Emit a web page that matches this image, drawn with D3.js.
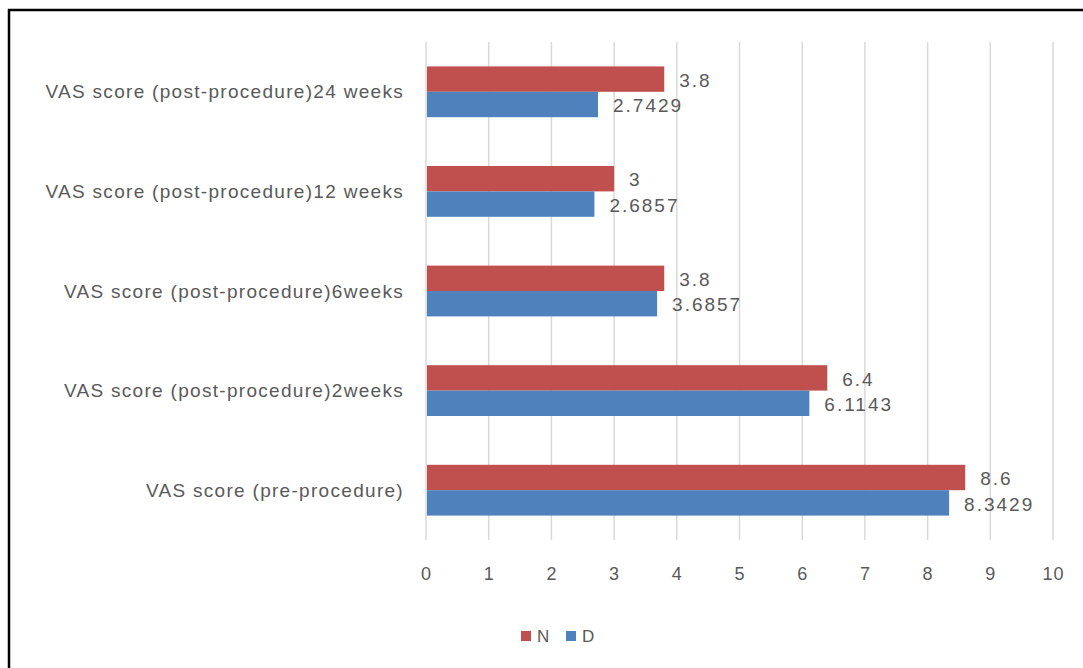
<!DOCTYPE html>
<html>
<head>
<meta charset="utf-8">
<script src="https://cdn.jsdelivr.net/npm/d3@7"></script>
<style>
    body { margin: 0; background: #fff; }
    svg text { font-family: "Liberation Sans", Arial, sans-serif; fill: #595959; }
</style>
</head>
<body>
<svg id="chart" width="1083" height="668"></svg>
<script>
// chart values
var categories = [
    "VAS score (post-procedure)24 weeks",
    "VAS score (post-procedure)12 weeks",
    "VAS score (post-procedure)6weeks",
    "VAS score (post-procedure)2weeks",
    "VAS score (pre-procedure)"
];
var seriesNames = ["N", "D"];
var nValues = [3.8, 3, 3.8, 6.4, 8.6];
var dValues = [2.7429, 2.6857, 3.6857, 6.1143, 8.3429];
var xTicks = [0, 1, 2, 3, 4, 5, 6, 7, 8, 9, 10];
var colors = ["#C0504D", "#4F81BD"];

var svg = d3.select("#chart");

// outer frame
svg.append("rect")
    .attr("x", 9).attr("y", 10)
    .attr("width", 1090).attr("height", 680)
    .attr("fill", "none")
    .attr("stroke", "#000")
    .attr("stroke-width", 2.5);

var margin = { left: 426, top: 42, right: 30 };
var width = 1053 - margin.left;
var height = 540 - margin.top;

var x = d3.scaleLinear()
    .domain([0, 10])
    .range([margin.left, margin.left + width]);

var y = d3.scaleBand()
    .domain(categories)
    .range([margin.top, margin.top + height])
    .paddingInner(0.49)
    .paddingOuter(0.245);

var ySub = d3.scaleBand()
    .domain(seriesNames)
    .range([0, y.bandwidth()]);

// gridlines
svg.append("g")
    .attr("class", "grid")
    .selectAll("line")
    .data(xTicks).enter()
    .append("line")
    .attr("x1", d => x(d)).attr("x2", d => x(d))
    .attr("y1", margin.top).attr("y2", margin.top + height)
    .attr("stroke", "#d9d9d9")
    .attr("stroke-width", 1.5);

// x tick labels
var gx = svg.append("g")
    .attr("transform", "translate(0," + (margin.top + height + 24) + ")")
    .call(d3.axisBottom(x).tickValues(xTicks).tickSize(0).tickFormat(d3.format("d")));
gx.select(".domain").remove();
gx.selectAll("text")
    .attr("font-size", 18)
    .attr("letter-spacing", 1)
    .attr("dy", "0.71em")
    .attr("fill", "#595959");

// category labels
svg.append("g")
    .selectAll("text")
    .data(categories).enter()
    .append("text")
    .attr("x", 404)
    .attr("y", d => y(d) + y.bandwidth() / 2)
    .attr("dy", "0.35em")
    .attr("text-anchor", "end")
    .attr("font-size", 19)
    .attr("letter-spacing", 1.3)
    .text(d => d);

var rows = categories.map((c, i) => ({ cat: c, vals: [nValues[i], dValues[i]] }));

var groups = svg.append("g")
    .selectAll("g")
    .data(rows).enter()
    .append("g")
    .attr("transform", d => "translate(0," + y(d.cat) + ")");

groups.selectAll("rect")
    .data(d => d.vals.map((v, j) => ({ name: seriesNames[j], v: v, j: j }))).enter()
    .append("rect")
    .attr("x", x(0) + 1)
    .attr("y", d => ySub(d.name))
    .attr("width", d => x(d.v) - x(0) - 1)
    .attr("height", ySub.bandwidth())
    .attr("fill", d => colors[d.j]);

groups.selectAll("text")
    .data(d => d.vals.map((v, j) => ({ name: seriesNames[j], v: v }))).enter()
    .append("text")
    .attr("x", d => x(d.v) + 15)
    .attr("y", d => ySub(d.name) + ySub.bandwidth() / 2 + 1)
    .attr("dy", "0.35em")
    .attr("font-size", 19)
    .attr("letter-spacing", 2)
    .text(d => d.v);

// legend
var legend = svg.append("g")
    .attr("transform", "translate(521,636)");
var items = legend.selectAll("g")
    .data(seriesNames).enter()
    .append("g")
    .attr("transform", (d, i) => "translate(" + (i * 45) + ",0)");
items.append("rect")
    .attr("x", 0).attr("y", -5)
    .attr("width", 10).attr("height", 10)
    .attr("fill", (d, i) => colors[i]);
items.append("text")
    .attr("x", 16).attr("y", 0)
    .attr("dy", "0.35em")
    .attr("font-size", 17)
    .text(d => d);
</script>
</body>
</html>
